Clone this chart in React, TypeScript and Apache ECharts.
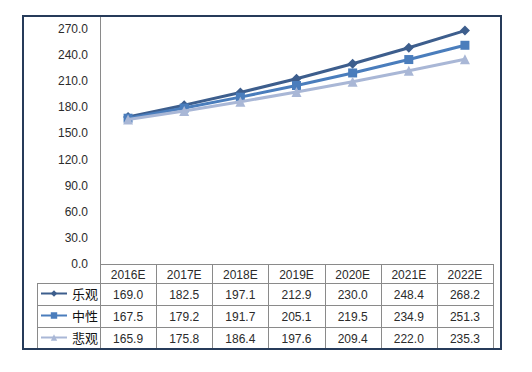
import React, { useEffect, useRef } from "react";
import * as echarts from "echarts";

const categories = ["2016E", "2017E", "2018E", "2019E", "2020E", "2021E", "2022E"];
const seriesNames = ["乐观", "中性", "悲观"];
const optimistic = [169.0, 182.5, 197.1, 212.9, 230.0, 248.4, 268.2];
const neutral = [167.5, 179.2, 191.7, 205.1, 219.5, 234.9, 251.3];
const pessimistic = [165.9, 175.8, 186.4, 197.6, 209.4, 222.0, 235.3];
const yTicks = [0, 30, 60, 90, 120, 150, 180, 210, 240, 270];

const colors = ["#3D5E8D", "#4A7DBC", "#A9B7D6"];
const symbols = ["diamond", "rect", "triangle"];
const symbolSizes = [10, 9, 10];

export default function App() {
  const ref = useRef<HTMLDivElement>(null);
  useEffect(() => {
    if (!ref.current) return;
    const chart = echarts.init(ref.current, undefined, { renderer: "svg" });
    const values = [optimistic, neutral, pessimistic];

    const gridLeft = 100;
    const gridRight = 493;
    const gridTop = 29;
    const gridBottom = 264;
    const colW = (gridRight - gridLeft) / categories.length;
    const headerBottom = 283;
    const rowH = 22;
    const tableBottom = headerBottom + rowH * seriesNames.length;
    const lineColor = "#8A8A8A";
    const textColor = "#2B2B2B";
    const font = "Liberation Sans, Arial, sans-serif";

    const graphics: any[] = [];
    graphics.push({ type: "line", shape: { x1: gridLeft, y1: gridBottom + 0.5, x2: gridRight, y2: gridBottom + 0.5 }, style: { stroke: lineColor, lineWidth: 1 } });
    for (let r = 0; r < seriesNames.length; r++) {
      const y = headerBottom + r * rowH + 0.5;
      graphics.push({ type: "line", shape: { x1: 37, y1: y, x2: gridRight, y2: y }, style: { stroke: lineColor, lineWidth: 1 } });
    }
    for (let c = 1; c <= categories.length; c++) {
      const x = Math.round(gridLeft + c * colW) + 0.5;
      graphics.push({ type: "line", shape: { x1: x, y1: gridBottom, x2: x, y2: tableBottom }, style: { stroke: lineColor, lineWidth: 1 } });
    }
    graphics.push({ type: "line", shape: { x1: 37.5, y1: headerBottom, x2: 37.5, y2: tableBottom }, style: { stroke: lineColor, lineWidth: 1 } });
    graphics.push({ type: "line", shape: { x1: gridLeft + 0.5, y1: 16, x2: gridLeft + 0.5, y2: tableBottom }, style: { stroke: lineColor, lineWidth: 1 } });
    categories.forEach((cat, i) => {
      graphics.push({
        type: "text",
        x: gridLeft + (i + 0.5) * colW,
        y: (gridBottom + headerBottom) / 2 + 1,
        style: { text: cat, fill: textColor, font: `12px ${font}`, textAlign: "center", textVerticalAlign: "middle" },
      });
    });
    values.forEach((arr, r) => {
      arr.forEach((v, i) => {
        graphics.push({
          type: "text",
          x: gridLeft + (i + 0.5) * colW,
          y: headerBottom + r * rowH + rowH / 2 + 1,
          style: { text: v.toFixed(1), fill: textColor, font: `12px ${font}`, textAlign: "center", textVerticalAlign: "middle" },
        });
      });
    });
    graphics.push({
      type: "rect",
      shape: { x: 23, y: 16, width: 478, height: 333 },
      style: { fill: "none", stroke: "#263B5A", lineWidth: 2 },
      z: 100,
    });

    const legends = seriesNames.map((name, r) => ({
      orient: "horizontal",
      left: 40,
      top: headerBottom + r * rowH + 4,
      itemWidth: 26,
      itemHeight: 8,
      itemGap: 0,
      data: [name],
      textStyle: { fontSize: 13, color: "#111", fontFamily: "Noto Sans CJK SC" },
      selectedMode: false,
      padding: 0,
    }));

    chart.setOption({
      animation: false,
      backgroundColor: "#ffffff",
      grid: { left: gridLeft, right: 532 - gridRight, top: gridTop, bottom: 372 - gridBottom, containLabel: false },
      legend: legends,
      xAxis: {
        type: "category",
        data: categories,
        boundaryGap: true,
        axisLine: { show: false },
        axisTick: { show: false },
        axisLabel: { show: false },
      },
      yAxis: {
        type: "value",
        min: 0,
        max: 270,
        interval: 30,
        axisLine: { show: false },
        axisTick: { show: false },
        splitLine: { show: false },
        axisLabel: {
          margin: 12,
          color: textColor,
          fontSize: 12,
          fontFamily: font,
          formatter: (v: number) => (yTicks.includes(v) ? v.toFixed(1) : ""),
        },
      },
      graphic: graphics,
      series: seriesNames.map((name, i) => ({
        name,
        type: "line",
        data: values[i],
        symbol: symbols[i],
        symbolSize: symbolSizes[i],
        lineStyle: { color: colors[i], width: 3 },
        itemStyle: { color: colors[i] },
        z: 2 + i,
      })),
    });
    return () => chart.dispose();
  }, []);
  return <div ref={ref} style={{ position: "fixed", left: 0, top: 0, width: 532, height: 372 }} />;
}
